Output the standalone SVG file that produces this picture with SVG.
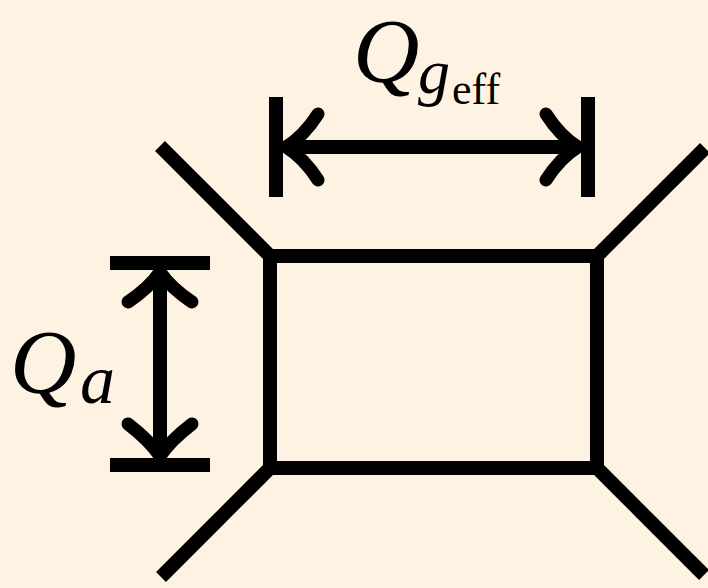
<svg xmlns="http://www.w3.org/2000/svg" width="708" height="588" viewBox="0 0 708 588">
<style>
.ln{stroke:#000;stroke-width:14;fill:none;stroke-linecap:butt}
.hd{stroke:#000;stroke-width:13;fill:none;stroke-linecap:round;stroke-linejoin:round}
.t{font-family:"Liberation Serif","Times New Roman",serif;fill:#000}
</style>
<rect width="708" height="588" fill="#FEF3E3"/>
<g id="box">
<rect x="270" y="256" width="327" height="212" class="ln" stroke-linejoin="miter"/>
</g>
<g id="legs">
<line x1="270" y1="256" x2="160" y2="146" class="ln"/>
<line x1="597" y1="256" x2="705" y2="148" class="ln"/>
<line x1="270" y1="468" x2="161" y2="577" class="ln"/>
<line x1="597" y1="468" x2="704" y2="575" class="ln"/>
</g>
<g id="dim-geff">
<line x1="276" y1="97" x2="276" y2="197" class="ln" stroke-width="15"/>
<line x1="588" y1="97" x2="588" y2="197" class="ln" stroke-width="15"/>
<line x1="290" y1="147" x2="575" y2="147" class="ln"/>
<path d="M318,114 Q304,136 286,147 Q304,158 318,180" class="hd"/>
<path d="M546,114 Q560,136 578,147 Q560,158 546,180" class="hd"/>
</g>
<g id="dim-a">
<line x1="110" y1="263" x2="210" y2="263" class="ln" stroke-width="15"/>
<line x1="110" y1="465" x2="210" y2="465" class="ln" stroke-width="15"/>
<line x1="160" y1="280" x2="160" y2="450" class="ln"/>
<path d="M128,302 Q149,288 160,272 Q171,288 192,302" class="hd"/>
<path d="M128,424 Q149,440 160,456 Q171,440 192,424" class="hd"/>
</g>
<g id="labels">
<text class="t" x="353" y="82" font-size="92" font-style="italic">Q</text>
<text class="t" x="418" y="93" font-size="64" font-style="italic">g</text>
<text class="t" x="452" y="104" font-size="44">eff</text>
<text class="t" x="10" y="393" font-size="92" font-style="italic">Q</text>
<text class="t" x="80" y="403" font-size="70" font-style="italic">a</text>
</g>
</svg>
